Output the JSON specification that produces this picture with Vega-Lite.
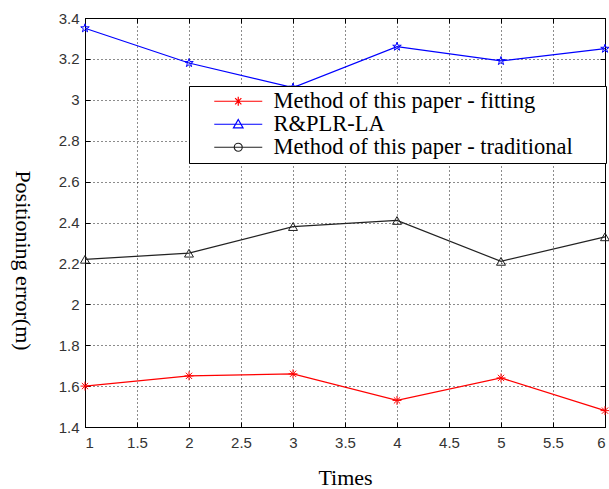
{
  "$schema": "https://vega.github.io/schema/vega-lite/v6.json",
  "width": 520,
  "height": 409,
  "autosize": {"type": "none"},
  "padding": {"left": 85, "top": 18, "right": 4, "bottom": 62},
  "background": "white",
  "config": {
    "view": {"stroke": "black", "strokeWidth": 1},
    "axis": {
      "domainColor": "black",
      "domainWidth": 1,
      "gridColor": "black",
      "gridDash": [1, 3],
      "gridWidth": 1,
      "gridOpacity": 0.9,
      "tickColor": "black",
      "tickSize": -5,
      "labelFont": "Liberation Sans",
      "labelFontSize": 15,
      "labelColor": "#333333",
      "titleFont": "Liberation Serif",
      "titleFontSize": 22,
      "titleFontWeight": "normal",
      "titleColor": "black"
    }
  },
  "data": {
    "values": [
      {"x": 1, "value": 1.60, "series": "Method of this paper - fitting"},
      {"x": 2, "value": 1.65, "series": "Method of this paper - fitting"},
      {"x": 3, "value": 1.66, "series": "Method of this paper - fitting"},
      {"x": 4, "value": 1.53, "series": "Method of this paper - fitting"},
      {"x": 5, "value": 1.64, "series": "Method of this paper - fitting"},
      {"x": 6, "value": 1.48, "series": "Method of this paper - fitting"},
      {"x": 1, "value": 3.35, "series": "R&PLR-LA"},
      {"x": 2, "value": 3.18, "series": "R&PLR-LA"},
      {"x": 3, "value": 3.06, "series": "R&PLR-LA"},
      {"x": 4, "value": 3.26, "series": "R&PLR-LA"},
      {"x": 5, "value": 3.19, "series": "R&PLR-LA"},
      {"x": 6, "value": 3.25, "series": "R&PLR-LA"},
      {"x": 1, "value": 2.22, "series": "Method of this paper -  traditional"},
      {"x": 2, "value": 2.25, "series": "Method of this paper -  traditional"},
      {"x": 3, "value": 2.38, "series": "Method of this paper -  traditional"},
      {"x": 4, "value": 2.41, "series": "Method of this paper -  traditional"},
      {"x": 5, "value": 2.21, "series": "Method of this paper -  traditional"},
      {"x": 6, "value": 2.33, "series": "Method of this paper -  traditional"}
    ]
  },
  "encoding": {
    "x": {
      "field": "x",
      "type": "quantitative",
      "scale": {"domain": [1, 6], "nice": false, "zero": false},
      "axis": {
        "values": [1, 1.5, 2, 2.5, 3, 3.5, 4, 4.5, 5, 5.5, 6],
        "format": ".1~f",
        "grid": true,
        "title": "Times",
        "labelPadding": 13,
        "titlePadding": 17
      }
    },
    "y": {
      "field": "value",
      "type": "quantitative",
      "scale": {"domain": [1.4, 3.4], "nice": false, "zero": false},
      "axis": {
        "values": [1.4, 1.6, 1.8, 2, 2.2, 2.4, 2.6, 2.8, 3, 3.2, 3.4],
        "format": ".1~f",
        "grid": true,
        "title": "Positioning error(m)",
        "labelPadding": 11,
        "titleAngle": 90,
        "titleX": -63,
        "titleY": 242,
        "titleAlign": "center",
        "titleBaseline": "middle"
      }
    },
    "color": {
      "field": "series",
      "type": "nominal",
      "scale": {
        "domain": ["Method of this paper - fitting", "R&PLR-LA", "Method of this paper -  traditional"],
        "range": ["#ff0000", "#0000ff", "#222222"]
      },
      "legend": null
    }
  },
  "layer": [
    {
      "mark": {"type": "line", "strokeWidth": 1.2},
      "encoding": {
        "x": {
          "field": "x",
          "type": "quantitative",
          "scale": {"domain": [1, 6], "nice": false, "zero": false},
          "axis": {
            "orient": "top",
            "values": [1, 1.5, 2, 2.5, 3, 3.5, 4, 4.5, 5, 5.5, 6],
            "labels": false,
            "grid": false,
            "domain": false,
            "title": null
          }
        },
        "y": {
          "field": "value",
          "type": "quantitative",
          "scale": {"domain": [1.4, 3.4], "nice": false, "zero": false},
          "axis": {
            "orient": "right",
            "values": [1.4, 1.6, 1.8, 2, 2.2, 2.4, 2.6, 2.8, 3, 3.2, 3.4],
            "labels": false,
            "grid": false,
            "domain": false,
            "title": null
          }
        }
      }
    },
    {
      "mark": {"type": "point", "filled": false, "size": 80, "strokeWidth": 1, "opacity": 1},
      "encoding": {
        "shape": {
          "field": "series",
          "type": "nominal",
          "scale": {
            "domain": ["Method of this paper - fitting", "R&PLR-LA", "Method of this paper -  traditional"],
            "range": [
              "M-1,0H1M0,-1V1M-0.7,-0.7L0.7,0.7M-0.7,0.7L0.7,-0.7",
              "M0,-1L0.223,-0.307L0.951,-0.309L0.361,0.117L0.588,0.809L0,0.38L-0.588,0.809L-0.361,0.117L-0.951,-0.309L-0.223,-0.307Z",
              "triangle-up"
            ]
          },
          "legend": null
        }
      }
    },
    {
      "mark": {"type": "point", "filled": false, "size": 256, "strokeWidth": 1, "opacity": 0},
      "encoding": {
        "x": {
          "field": "x",
          "type": "quantitative",
          "scale": {"domain": [1, 6], "nice": false, "zero": false},
          "axis": null
        },
        "y": {
          "field": "value",
          "type": "quantitative",
          "scale": {"domain": [1.4, 3.4], "nice": false, "zero": false},
          "axis": null
        },
        "color": {
          "field": "series",
          "type": "nominal",
          "scale": {
            "domain": ["Method of this paper - fitting", "R&PLR-LA", "Method of this paper -  traditional"],
            "range": ["#ff0000", "#0000ff", "#222222"]
          },
          "legend": {
            "orient": "none",
            "legendX": 104,
            "legendY": 68,
            "title": null,
            "padding": 4,
            "strokeColor": "black",
            "fillColor": "white",
            "cornerRadius": 0,
            "symbolOpacity": 1,
            "symbolSize": 256,
            "symbolStrokeWidth": 1.2,
            "labelOffset": 58,
            "labelFont": "Liberation Serif",
            "labelFontSize": 22.5,
            "labelColor": "black",
            "labelLimit": 600,
            "rowPadding": 0,
            "labelExpr": "datum.label + '\u00a0\u2800'"
          }
        },
        "shape": {
          "field": "series",
          "type": "nominal",
          "scale": {
            "domain": ["Method of this paper - fitting", "R&PLR-LA", "Method of this paper -  traditional"],
            "range": [
              "M1.25,0H7.25M4.25,-0.55V0.55M3.86,-0.39L4.64,0.39M3.86,0.39L4.64,-0.39",
              "M1.25,0H7.25M4.25,-0.6L4.85,0.45H3.65Z",
              "M1.25,0H7.25M3.75,0A0.5,0.5 0 1,0 4.75,0A0.5,0.5 0 1,0 3.75,0"
            ]
          },
          "legend": {
            "orient": "none",
            "legendX": 104,
            "legendY": 68,
            "title": null,
            "padding": 4,
            "strokeColor": "black",
            "fillColor": "white",
            "cornerRadius": 0,
            "symbolOpacity": 1,
            "symbolSize": 256,
            "symbolStrokeWidth": 1.2,
            "labelOffset": 58,
            "labelFont": "Liberation Serif",
            "labelFontSize": 22.5,
            "labelColor": "black",
            "labelLimit": 600,
            "rowPadding": 0,
            "labelExpr": "datum.label + '\u00a0\u2800'"
          }
        }
      }
    }
  ],
  "resolve": {
    "scale": {"shape": "independent", "color": "independent", "x": "independent", "y": "independent"},
    "axis": {"x": "independent", "y": "independent"}
  }
}
